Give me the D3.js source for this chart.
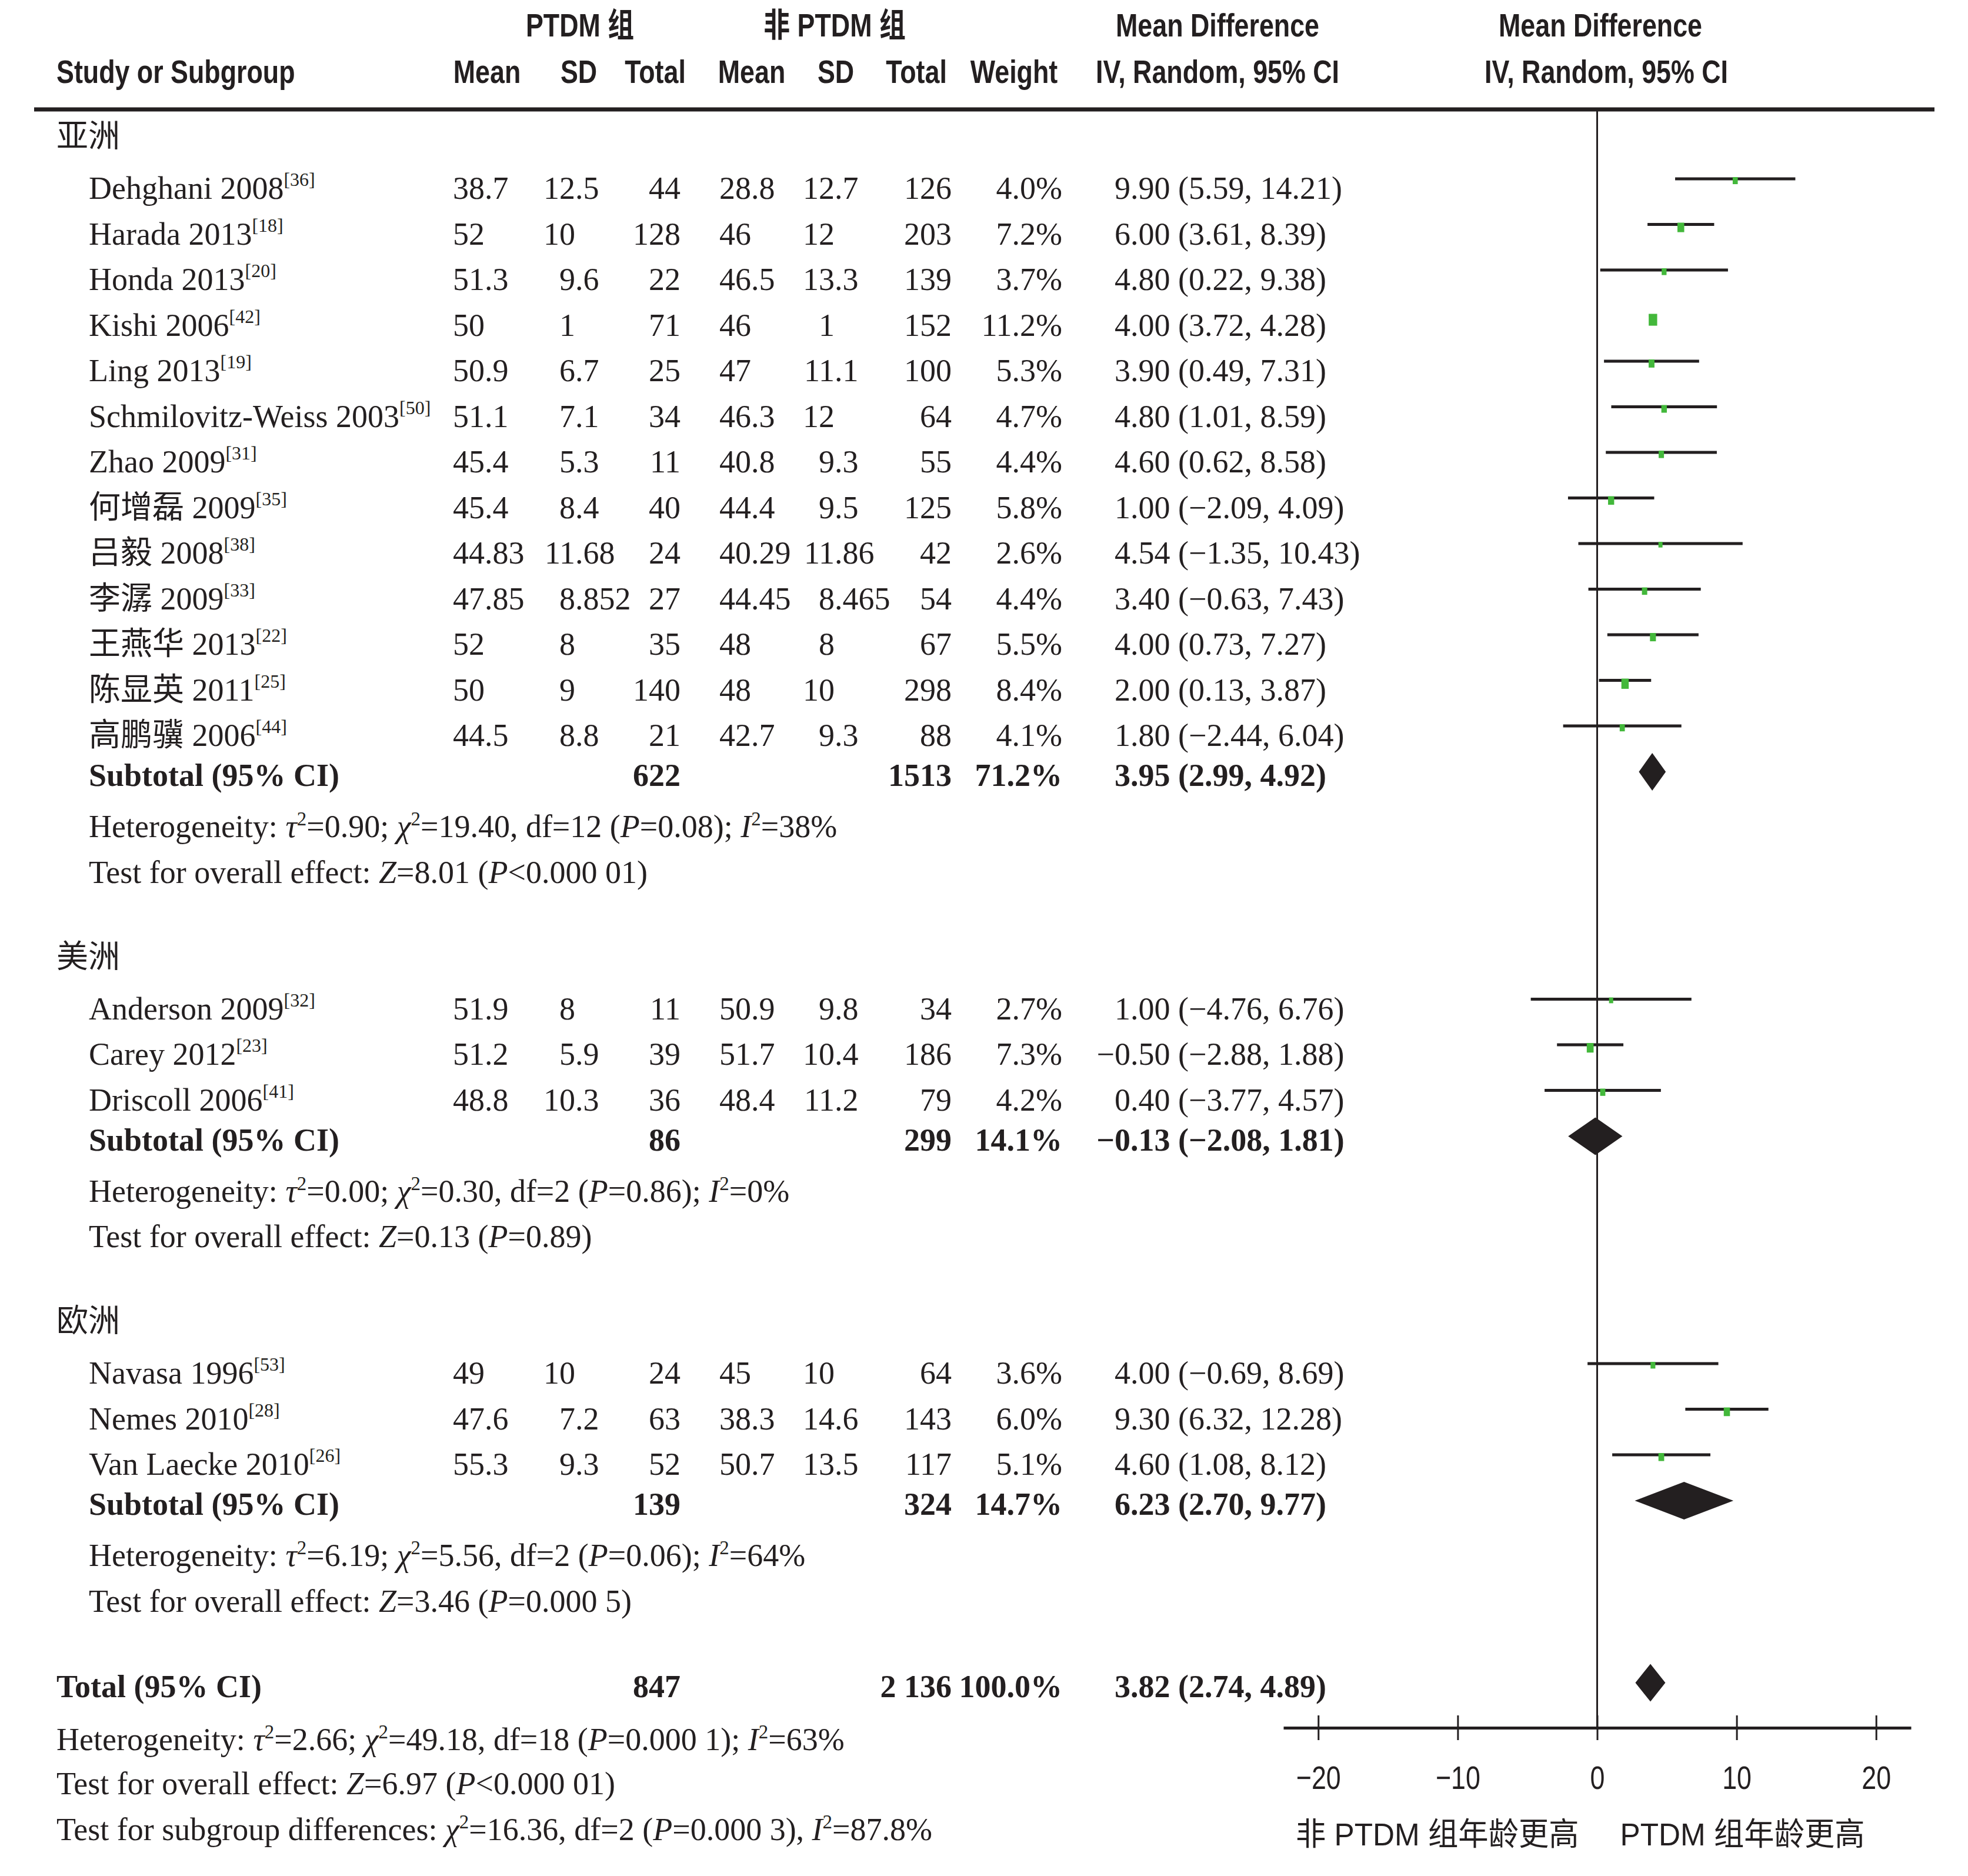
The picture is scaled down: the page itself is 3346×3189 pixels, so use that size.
<!DOCTYPE html>
<html><head><meta charset="utf-8">
<script src="https://cdn.jsdelivr.net/npm/d3@7"></script>
<style>body{margin:0;background:#fff}</style></head><body>
<svg id="c" width="3346" height="3189" xmlns="http://www.w3.org/2000/svg"></svg>
<script>
// ---------------- DATA ----------------
const groupNames = ["亚洲", "美洲", "欧洲"];
const studyNames = ["Dehghani 2008", "Harada 2013", "Honda 2013", "Kishi 2006", "Ling 2013",
  "Schmilovitz-Weiss 2003", "Zhao 2009", "何增磊 2009", "吕毅 2008", "李潺 2009", "王燕华 2013",
  "陈显英 2011", "高鹏骥 2006", "Anderson 2009", "Carey 2012", "Driscoll 2006",
  "Navasa 1996", "Nemes 2010", "Van Laecke 2010"];
const studyRefs = ["[36]", "[18]", "[20]", "[42]", "[19]", "[50]", "[31]", "[35]", "[38]", "[33]", "[22]",
  "[25]", "[44]", "[32]", "[23]", "[41]", "[53]", "[28]", "[26]"];
const studyGroup = [0,0,0,0,0,0,0,0,0,0,0,0,0,1,1,1,2,2,2];
const ptdmMean = [38.7, 52, 51.3, 50, 50.9, 51.1, 45.4, 45.4, 44.83, 47.85, 52, 50, 44.5, 51.9, 51.2, 48.8, 49, 47.6, 55.3];
const ptdmSD = [12.5, 10, 9.6, 1, 6.7, 7.1, 5.3, 8.4, 11.68, 8.852, 8, 9, 8.8, 8, 5.9, 10.3, 10, 7.2, 9.3];
const ptdmTotal = [44, 128, 22, 71, 25, 34, 11, 40, 24, 27, 35, 140, 21, 11, 39, 36, 24, 63, 52];
const nonMean = [28.8, 46, 46.5, 46, 47, 46.3, 40.8, 44.4, 40.29, 44.45, 48, 48, 42.7, 50.9, 51.7, 48.4, 45, 38.3, 50.7];
const nonSD = [12.7, 12, 13.3, 1, 11.1, 12, 9.3, 9.5, 11.86, 8.465, 8, 10, 9.3, 9.8, 10.4, 11.2, 10, 14.6, 13.5];
const nonTotal = [126, 203, 139, 152, 100, 64, 55, 125, 42, 54, 67, 298, 88, 34, 186, 79, 64, 143, 117];
const weights = [4.0, 7.2, 3.7, 11.2, 5.3, 4.7, 4.4, 5.8, 2.6, 4.4, 5.5, 8.4, 4.1, 2.7, 7.3, 4.2, 3.6, 6.0, 5.1];
const md = [9.90, 6.00, 4.80, 4.00, 3.90, 4.80, 4.60, 1.00, 4.54, 3.40, 4.00, 2.00, 1.80, 1.00, -0.50, 0.40, 4.00, 9.30, 4.60];
const ciLow = [5.59, 3.61, 0.22, 3.72, 0.49, 1.01, 0.62, -2.09, -1.35, -0.63, 0.73, 0.13, -2.44, -4.76, -2.88, -3.77, -0.69, 6.32, 1.08];
const ciHigh = [14.21, 8.39, 9.38, 4.28, 7.31, 8.59, 8.58, 4.09, 10.43, 7.43, 7.27, 3.87, 6.04, 6.76, 1.88, 4.57, 8.69, 12.28, 8.12];

const subTotalPTDM = [622, 86, 139];
const subTotalNon = [1513, 299, 324];
const subWeight = [71.2, 14.1, 14.7];
const subMD = [3.95, -0.13, 6.23];
const subLow = [2.99, -2.08, 2.70];
const subHigh = [4.92, 1.81, 9.77];
const subHet = [
  "Heterogeneity: *τ*^2^=0.90; *χ*^2^=19.40, df=12 (*P*=0.08); *I*^2^=38%",
  "Heterogeneity: *τ*^2^=0.00; *χ*^2^=0.30, df=2 (*P*=0.86); *I*^2^=0%",
  "Heterogeneity: *τ*^2^=6.19; *χ*^2^=5.56, df=2 (*P*=0.06); *I*^2^=64%"];
const subTest = [
  "Test for overall effect: *Z*=8.01 (*P*<0.000 01)",
  "Test for overall effect: *Z*=0.13 (*P*=0.89)",
  "Test for overall effect: *Z*=3.46 (*P*=0.000 5)"];

const totalLabel = "Total (95% CI)";
const totalPTDM = [847];
const totalNon = ["2 136"];
const totalWeight = [100.0];
const totalMD = [3.82];
const totalLow = [2.74];
const totalHigh = [4.89];
const overallNotes = [
  "Heterogeneity: *τ*^2^=2.66; *χ*^2^=49.18, df=18 (*P*=0.000 1); *I*^2^=63%",
  "Test for overall effect: *Z*=6.97 (*P*<0.000 01)",
  "Test for subgroup differences: *χ*^2^=16.36, df=2 (*P*=0.000 3), *I*^2^=87.8%"];

const headerTop = ["PTDM 组", "非 PTDM 组", "Mean Difference", "Mean Difference"];
const headerBottom = ["Study or Subgroup", "Mean", "SD", "Total", "Mean", "SD", "Total", "Weight", "IV, Random, 95% CI", "IV, Random, 95% CI"];
const xTicks = [-20, -10, 0, 10, 20];
const axisLabels = ["非 PTDM 组年龄更高", "PTDM 组年龄更高"];

// ---------------- STYLE / LAYOUT ----------------
const ink = "#231f20", green = "#43b83b";
const serif = "'Liberation Serif','Times New Roman','Noto Sans CJK SC',serif";
const sans = "'Liberation Sans Narrow','Arial Narrow','Liberation Sans','Noto Sans CJK SC',sans-serif";
const FS = 54, FH = 56, NARROW = 0.8;

const svg = d3.select("#c");
const x = d3.scaleLinear().domain([-22.5, 22.5]).range([2182, 3249]);
const axisY = 2937, ruleY = 186;

const col = { name: 151, group: 96, meanP: 824, sdP: 978, totP: 1157, meanN: 1277, sdN: 1419, totN: 1618, wt: 1806, ci: 1922 };

// measurement helper
const meas = svg.append("text").attr("font-family", serif).attr("font-size", FS).attr("visibility", "hidden");
function tw(s, bold) { meas.attr("font-weight", bold ? "bold" : "normal").text(s); return meas.node().getComputedTextLength(); }

function txt(s, xx, yy, opts = {}) {
  return svg.append("text").attr("x", xx).attr("y", yy)
    .attr("font-family", opts.family || serif).attr("font-size", opts.size || FS)
    .attr("font-weight", opts.bold ? "bold" : "normal")
    .attr("text-anchor", opts.anchor || "start").attr("fill", ink).text(s);
}
// condensed sans text
function stxt(s, xx, yy, opts = {}) {
  return svg.append("text").attr("transform", `translate(${xx},${yy}) scale(${opts.sx || NARROW},1)`)
    .attr("font-family", sans).attr("font-size", opts.size || FH)
    .attr("font-weight", opts.bold ? "bold" : "normal")
    .attr("text-anchor", opts.anchor || "start").attr("fill", ink).text(s);
}
function dec(s, ax, yy, bold) {
  s = String(s).replace(/-/g, "−");
  const i = s.indexOf(".");
  const pre = i < 0 ? s : s.slice(0, i);
  return txt(s, ax - tw(pre, bold), yy, { bold });
}
function rich(str, xx, yy) {
  const t = svg.append("text").attr("x", xx).attr("y", yy).attr("font-family", serif).attr("font-size", FS).attr("fill", ink);
  const parts = str.split(/(\*[^*]+\*|\^[^^]+\^)/).filter(p => p.length);
  let raised = false;
  parts.forEach(p => {
    const sp = t.append("tspan");
    if (p[0] === "*") { sp.text(p.slice(1, -1)).attr("font-style", "italic"); if (raised) { sp.attr("dy", 20); raised = false; } }
    else if (p[0] === "^") { sp.text(p.slice(1, -1)).attr("font-size", 33).attr("dy", -20); raised = true; }
    else { sp.text(p); if (raised) { sp.attr("dy", 20); raised = false; } }
  });
}
function studyName(i, yy) {
  const t = svg.append("text").attr("x", col.name).attr("y", yy).attr("font-family", serif).attr("font-size", FS).attr("fill", ink);
  t.append("tspan").text(studyNames[i]);
  t.append("tspan").text(studyRefs[i]).attr("font-size", 32).attr("dy", -22);
}
const f2 = d3.format(".2f"), f1 = d3.format(".1f");
const ciStr = (m, l, h) => `${f2(m)} (${f2(l)}, ${f2(h)})`;

// ---------------- HEADER ----------------
const hdrTopX = [986, 1419, 2070, 2721];
headerTop.forEach((h, i) => stxt(h, hdrTopX[i], 62, { bold: true, anchor: "middle" }));
const hdrBotX = [96, 828, 984, 1114, 1278, 1421, 1558, 1724, 2070, 2731];
headerBottom.forEach((h, i) => stxt(h, hdrBotX[i], 141, { bold: true, anchor: i === 0 ? "start" : "middle" }));
svg.append("line").attr("x1", 58).attr("x2", 3289).attr("y1", ruleY).attr("y2", ruleY).attr("stroke", ink).attr("stroke-width", 7);

// ---------------- ROWS ----------------
const GAP = { hdrToStudy: 88, study: 77.5, studyToSub: 68, subToHet: 87, hetToTest: 77.5, testToHdr: 144, testToTotal: 145, totalToHet: 90, note1: 75, note2: 78 };
const rows = [];
let y = 250;
groupNames.forEach((g, gi) => {
  rows.push({ type: "group", gi, y });
  y += GAP.hdrToStudy;
  const idx = studyGroup.map((v, i) => v === gi ? i : -1).filter(i => i >= 0);
  idx.forEach((si, k) => { if (k > 0) y += GAP.study; rows.push({ type: "study", si, y }); });
  y += GAP.studyToSub; rows.push({ type: "sub", gi, y });
  y += GAP.subToHet; rows.push({ type: "het", gi, y });
  y += GAP.hetToTest; rows.push({ type: "test", gi, y });
  y += gi < groupNames.length - 1 ? GAP.testToHdr : GAP.testToTotal;
});
rows.push({ type: "total", y });
y += GAP.totalToHet; rows.push({ type: "note", k: 0, y });
y += GAP.note1; rows.push({ type: "note", k: 1, y });
y += GAP.note2; rows.push({ type: "note", k: 2, y });

// zero line (behind marks)
svg.append("line").attr("x1", x(0)).attr("x2", x(0)).attr("y1", ruleY).attr("y2", axisY).attr("stroke", ink).attr("stroke-width", 3);

function diamond(m, l, h, yy) {
  const cy = yy - 24, hh = 32;
  svg.append("path").attr("d", `M${x(l)},${cy}L${x(m)},${cy - hh}L${x(h)},${cy}L${x(m)},${cy + hh}Z`).attr("fill", ink);
}

rows.forEach(r => {
  if (r.type === "group") {
    txt(groupNames[r.gi], col.group, r.y, { family: sans, size: 54 });
  } else if (r.type === "study") {
    const i = r.si;
    studyName(i, r.y);
    dec(ptdmMean[i], col.meanP, r.y);
    dec(ptdmSD[i], col.sdP, r.y);
    txt(ptdmTotal[i], col.totP, r.y, { anchor: "end" });
    dec(nonMean[i], col.meanN, r.y);
    dec(nonSD[i], col.sdN, r.y);
    txt(nonTotal[i], col.totN, r.y, { anchor: "end" });
    txt(f1(weights[i]) + "%", col.wt, r.y, { anchor: "end" });
    dec(ciStr(md[i], ciLow[i], ciHigh[i]), col.ci, r.y);
    const ly = r.y - 34;
    svg.append("line").attr("x1", x(ciLow[i])).attr("x2", x(ciHigh[i])).attr("y1", ly).attr("y2", ly).attr("stroke", ink).attr("stroke-width", 5);
    const w = 4.3 * Math.sqrt(weights[i]), h = w * 1.4;
    svg.append("rect").attr("x", x(md[i]) - w / 2).attr("y", ly - 3).attr("width", w).attr("height", h).attr("fill", green);
  } else if (r.type === "sub") {
    const g = r.gi;
    txt("Subtotal (95% CI)", col.name, r.y, { bold: true });
    txt(subTotalPTDM[g], col.totP, r.y, { anchor: "end", bold: true });
    txt(subTotalNon[g], col.totN, r.y, { anchor: "end", bold: true });
    txt(f1(subWeight[g]) + "%", col.wt, r.y, { anchor: "end", bold: true });
    dec(ciStr(subMD[g], subLow[g], subHigh[g]), col.ci, r.y, true);
    diamond(subMD[g], subLow[g], subHigh[g], r.y);
  } else if (r.type === "het") {
    rich(subHet[r.gi], col.name, r.y);
  } else if (r.type === "test") {
    rich(subTest[r.gi], col.name, r.y);
  } else if (r.type === "total") {
    txt(totalLabel, col.group, r.y, { bold: true });
    txt(totalPTDM[0], col.totP, r.y, { anchor: "end", bold: true });
    txt(totalNon[0], col.totN, r.y, { anchor: "end", bold: true });
    txt(f1(totalWeight[0]) + "%", col.wt, r.y, { anchor: "end", bold: true });
    dec(ciStr(totalMD[0], totalLow[0], totalHigh[0]), col.ci, r.y, true);
    diamond(totalMD[0], totalLow[0], totalHigh[0], r.y);
  } else if (r.type === "note") {
    rich(overallNotes[r.k], col.group, r.y);
  }
});

// ---------------- AXIS ----------------
const axis = d3.axisBottom(x).tickValues(xTicks).tickSize(21).tickSizeOuter(0);
const ag = svg.append("g").attr("transform", `translate(0,${axisY})`).call(axis)
  .attr("font-family", sans).attr("font-size", 56);
ag.select(".domain").attr("stroke", ink).attr("stroke-width", 5);
ag.selectAll(".tick line").attr("y1", -21).attr("y2", 21).attr("stroke", ink).attr("stroke-width", 3);
ag.selectAll(".tick text").attr("y", 104).attr("dy", null).attr("fill", ink).attr("transform", `scale(${NARROW},1)`);

stxt(axisLabels[0], x(0) - 31, 3137, { size: 54, sx: 0.95, anchor: "end" });
stxt(axisLabels[1], x(0) + 39, 3137, { size: 54, sx: 0.95, anchor: "start" });
</script></body></html>
